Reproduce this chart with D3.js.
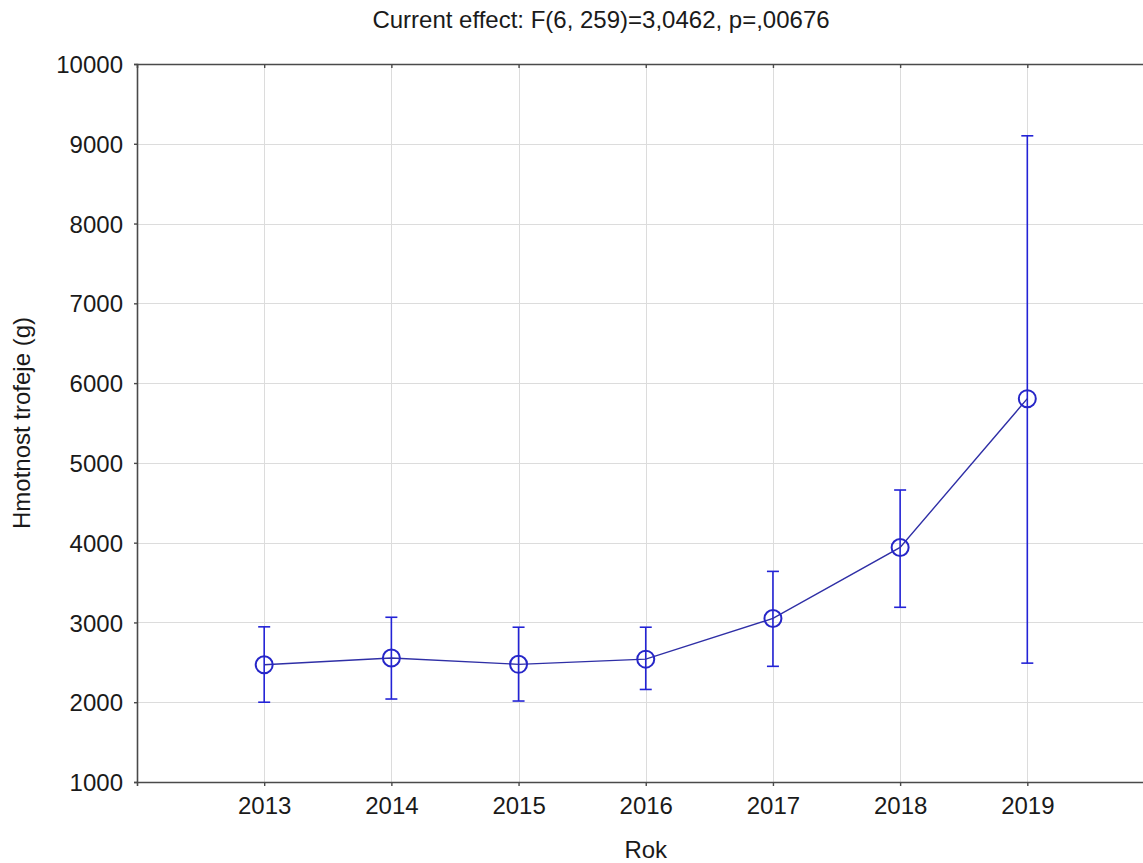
<!DOCTYPE html>
<html>
<head>
<meta charset="utf-8">
<script src="https://cdn.jsdelivr.net/npm/d3@7/dist/d3.min.js"></script>
<style>
  html, body { margin: 0; padding: 0; background: #fff; }
  svg { display: block; font-family: "Liberation Sans", Arial, sans-serif; }
</style>
</head>
<body>
<svg id="chart" width="1143" height="863"></svg>
<script>
// Trophy weight by year: means with 95% confidence limits
const years = [2013, 2014, 2015, 2016, 2017, 2018, 2019];
const means = [2470, 2555, 2475, 2540, 3050, 3940, 5805];
const upper = [2945, 3065, 2940, 2940, 3640, 4660, 9100];
const lower = [2000, 2040, 2015, 2160, 2450, 3190, 2490];
const yTicks = [1000, 2000, 3000, 4000, 5000, 6000, 7000, 8000, 9000, 10000];

const titleText = "Current effect: F(6, 259)=3,0462, p=,00676";
const xTitle = "Rok";
const yTitle = "Hmotnost trofeje (g)";

const svg = d3.select("#chart");
const plot = { left: 137, top: 64, right: 1154.5, bottom: 782 };
const fontSize = "24px";

const x = d3.scaleLinear().domain([2012, 2020]).range([plot.left, plot.right]);
const y = d3.scaleLinear().domain([1000, 10000]).range([plot.bottom, plot.top]);

const data = years.map((yr, i) => ({ yr, m: means[i], hi: upper[i], lo: lower[i] }));

// grid
const grid = svg.append("g").attr("stroke", "#dcdcdc").attr("stroke-width", 1);
grid.selectAll("line.h").data(yTicks.slice(1, -1)).join("line")
  .attr("x1", plot.left).attr("x2", plot.right)
  .attr("y1", d => Math.round(y(d)) + 0.5).attr("y2", d => Math.round(y(d)) + 0.5);
grid.selectAll("line.v").data(years).join("line")
  .attr("y1", plot.top).attr("y2", plot.bottom)
  .attr("x1", d => Math.round(x(d)) + 0.5).attr("x2", d => Math.round(x(d)) + 0.5);

// axes
const axisColor = "#4a4a4a";
const yAxis = d3.axisLeft(y).tickValues(yTicks).tickSize(3).tickFormat(d3.format("d"));
const gy = svg.append("g").attr("transform", `translate(${plot.left},0)`).call(yAxis);
const xAxis = d3.axisBottom(x).tickValues(years).tickSize(4).tickFormat(d3.format("d"));
const gx = svg.append("g").attr("transform", `translate(0,${plot.bottom})`).call(xAxis);
const xTop = d3.axisTop(x).tickValues(years).tickSize(-4).tickFormat("");
const gt = svg.append("g").attr("transform", `translate(0,${plot.top})`).call(xTop);

[gy, gx, gt].forEach(g => {
  g.select(".domain").attr("stroke", axisColor).attr("stroke-width", 1.6);
  g.selectAll(".tick line").attr("stroke", axisColor).attr("stroke-width", 1.4);
  g.selectAll(".tick text").attr("fill", "#1a1a1a").style("font-size", fontSize)
    .style("font-family", "'Liberation Sans', Arial, sans-serif");
});
gy.selectAll(".tick text").attr("x", -14).attr("dy", "0.36em");
gx.selectAll(".tick text").attr("y", 15).attr("dy", "0.71em");

// titles
svg.append("text").attr("x", 601).attr("y", 28).attr("text-anchor", "middle")
  .attr("fill", "#1a1a1a").style("font-size", fontSize).text(titleText);
svg.append("text").attr("x", x(2016)).attr("y", 858).attr("text-anchor", "middle")
  .attr("fill", "#1a1a1a").style("font-size", fontSize).text(xTitle);
svg.append("text").attr("transform", `translate(30,${(plot.top + plot.bottom) / 2}) rotate(-90)`)
  .attr("text-anchor", "middle").attr("fill", "#1a1a1a").style("font-size", fontSize).text(yTitle);

// error bars
const barColor = "#2323d6";
const eb = svg.append("g").attr("stroke", barColor).attr("stroke-width", 1.6);
eb.selectAll("line.bar").data(data).join("line")
  .attr("x1", d => x(d.yr)).attr("x2", d => x(d.yr))
  .attr("y1", d => y(d.hi)).attr("y2", d => y(d.lo));
eb.selectAll("line.capHi").data(data).join("line")
  .attr("x1", d => x(d.yr) - 6).attr("x2", d => x(d.yr) + 6)
  .attr("y1", d => y(d.hi)).attr("y2", d => y(d.hi));
eb.selectAll("line.capLo").data(data).join("line")
  .attr("x1", d => x(d.yr) - 6).attr("x2", d => x(d.yr) + 6)
  .attr("y1", d => y(d.lo)).attr("y2", d => y(d.lo));

// mean line
svg.append("path").datum(data)
  .attr("fill", "none").attr("stroke", "#2f2fa6").attr("stroke-width", 1.4)
  .attr("d", d3.line().x(d => x(d.yr)).y(d => y(d.m)));

// mean markers
svg.append("g").selectAll("circle").data(data).join("circle")
  .attr("cx", d => x(d.yr)).attr("cy", d => y(d.m)).attr("r", 8.5)
  .attr("fill", "none").attr("stroke", "#2626c8").attr("stroke-width", 2);
</script>
</body>
</html>
